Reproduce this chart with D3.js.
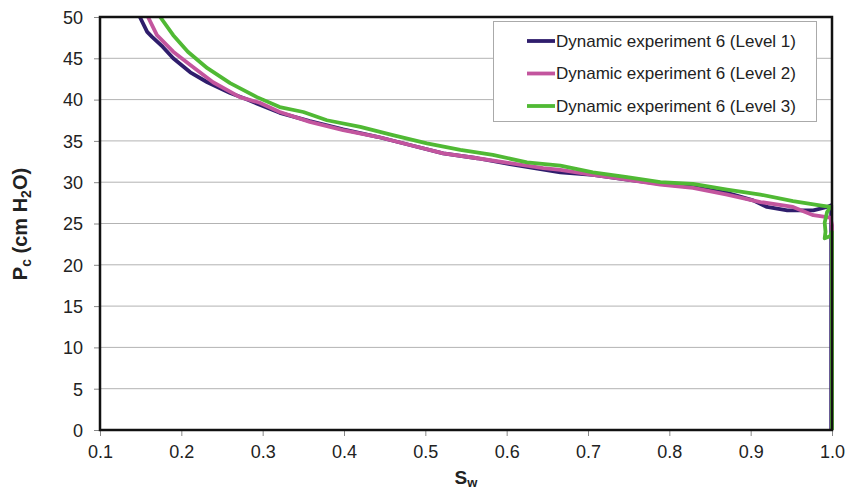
<!DOCTYPE html>
<html>
<head>
<meta charset="utf-8">
<script src="https://cdn.jsdelivr.net/npm/d3@7"></script>
<style>
  html, body { margin: 0; padding: 0; background: #fff; }
  svg { display: block; font-family: "Liberation Sans", Arial, sans-serif; }
</style>
</head>
<body>
<svg id="chart" width="849" height="493"></svg>
<script>
// ---- data ----
const seriesNames = [
  "Dynamic experiment 6 (Level 1)",
  "Dynamic experiment 6 (Level 2)",
  "Dynamic experiment 6 (Level 3)"
];
const level1Sw = [0.149,0.158,0.164,0.177,0.190,0.211,0.232,0.260,0.281,0.321,0.358,0.399,0.441,0.481,0.522,0.564,0.604,0.666,0.706,0.748,0.789,0.829,0.871,0.903,0.920,0.945,0.977,0.994,0.999,0.999,0.999];
const level1Pc = [50,48.2,47.6,46.4,45.0,43.3,42.1,40.8,40.0,38.4,37.4,36.4,35.5,34.5,33.5,32.9,32.2,31.2,30.9,30.3,29.8,29.4,28.7,27.8,27.0,26.6,26.6,27.0,27.2,21.8,0];
const level2Sw = [0.159,0.170,0.190,0.211,0.239,0.272,0.297,0.321,0.358,0.399,0.441,0.481,0.522,0.564,0.604,0.645,0.666,0.706,0.748,0.789,0.829,0.871,0.912,0.952,0.977,0.998,1.0,1.0];
const level2Pc = [50,47.8,45.8,44.2,42.1,40.3,39.6,38.5,37.3,36.3,35.5,34.5,33.5,32.9,32.3,31.7,31.5,30.9,30.3,29.7,29.3,28.5,27.6,27.0,26.0,25.7,24.8,0];
const level3Sw = [0.174,0.190,0.208,0.232,0.260,0.293,0.321,0.350,0.379,0.420,0.460,0.502,0.543,0.583,0.625,0.666,0.706,0.748,0.789,0.829,0.871,0.912,0.952,0.985,0.998,0.994,0.991,0.992,0.991,0.998,1.0,1.0];
const level3Pc = [50,47.8,45.8,43.8,42.0,40.3,39.1,38.5,37.5,36.7,35.7,34.7,33.9,33.3,32.4,32.0,31.2,30.6,30.0,29.8,29.1,28.5,27.7,27.2,27.0,26.4,25.1,24.0,23.2,23.5,24.0,0];
const xTicks = [0.1,0.2,0.3,0.4,0.5,0.6,0.7,0.8,0.9,1.0];
const yTicks = [0,5,10,15,20,25,30,35,40,45,50];
const colors = ["#2f1d6c", "#c3559e", "#50b934"];

// ---- layout ----
const svg = d3.select("#chart");
const L = 100, R = 832, T = 17, B = 430;
const x = d3.scaleLinear().domain([0.1, 1.0]).range([L, R]);
const y = d3.scaleLinear().domain([0, 50]).range([B, T]);

// gridlines
svg.append("g").selectAll("line").data(yTicks.filter(d => d > 0 && d < 50)).join("line")
  .attr("x1", L).attr("x2", R)
  .attr("y1", d => y(d)).attr("y2", d => y(d))
  .attr("stroke", "#b3b3b3").attr("stroke-width", 1);

// axes
const yAxis = svg.append("g").attr("transform", `translate(${L},0)`)
  .call(d3.axisLeft(y).tickValues(yTicks).tickFormat(d3.format("d")).tickSize(6).tickPadding(11));
const xAxis = svg.append("g").attr("transform", `translate(0,${B})`)
  .call(d3.axisBottom(x).tickValues(xTicks).tickFormat(d3.format(".1f")).tickSize(6).tickPadding(9));
[yAxis, xAxis].forEach(g => {
  g.select(".domain").remove();
  g.selectAll(".tick line").attr("stroke", "#888");
  g.selectAll(".tick text").attr("fill", "#222").style("font-size", "18px")
    .style("font-family", "'Liberation Sans', Arial, sans-serif");
});
yAxis.selectAll(".tick text").attr("dy", "0.35em");

// clip
svg.append("clipPath").attr("id", "clip").append("rect")
  .attr("x", L).attr("y", T).attr("width", R - L + 3).attr("height", B - T);

// series
const series = [
  {sw: level1Sw, pc: level1Pc},
  {sw: level2Sw, pc: level2Pc},
  {sw: level3Sw, pc: level3Pc}
];
const line = d3.line().x(d => x(d[0])).y(d => y(d[1]));
svg.append("g").attr("clip-path", "url(#clip)").selectAll("path").data(series).join("path")
  .attr("d", s => line(s.sw.map((v, i) => [v, s.pc[i]])))
  .attr("fill", "none")
  .attr("stroke", (s, i) => colors[i])
  .attr("stroke-width", 3.8)
  .attr("stroke-linejoin", "round")
  .attr("stroke-linecap", "round");

// frame
svg.append("rect").attr("x", L).attr("y", T).attr("width", R - L).attr("height", B - T)
  .attr("fill", "none").attr("stroke", "#111").attr("stroke-width", 2.5);

// legend
const lg = svg.append("g");
lg.append("rect").attr("x", 493.5).attr("y", 21.5).attr("width", 323).attr("height", 100)
  .attr("fill", "#fff").attr("stroke", "#aaa").attr("stroke-width", 1);
seriesNames.forEach((name, i) => {
  const yy = 41 + i * 32.5;
  lg.append("line").attr("x1", 527).attr("x2", 555).attr("y1", yy).attr("y2", yy)
    .attr("stroke", colors[i]).attr("stroke-width", 3.8);
  lg.append("text").attr("x", 556).attr("y", yy).attr("dy", "0.35em")
    .attr("fill", "#222").style("font-size", "17px").text(name);
});

// axis titles
const xt = svg.append("text").attr("x", 466).attr("y", 484).attr("text-anchor", "middle")
  .style("font-size", "19px").style("font-weight", "bold").attr("fill", "#222");
xt.append("tspan").text("S");
xt.append("tspan").attr("dy", 3).style("font-size", "13px").text("w");

const yt = svg.append("text").attr("transform", "translate(27,224) rotate(-90)")
  .attr("text-anchor", "middle").style("font-size", "20px").style("font-weight", "bold").attr("fill", "#222");
yt.append("tspan").text("P");
yt.append("tspan").attr("dy", 4).style("font-size", "14px").text("c");
yt.append("tspan").attr("dy", -4).text(" (cm H");
yt.append("tspan").attr("dy", 4).style("font-size", "14px").text("2");
yt.append("tspan").attr("dy", -4).text("O)");
</script>
</body>
</html>
